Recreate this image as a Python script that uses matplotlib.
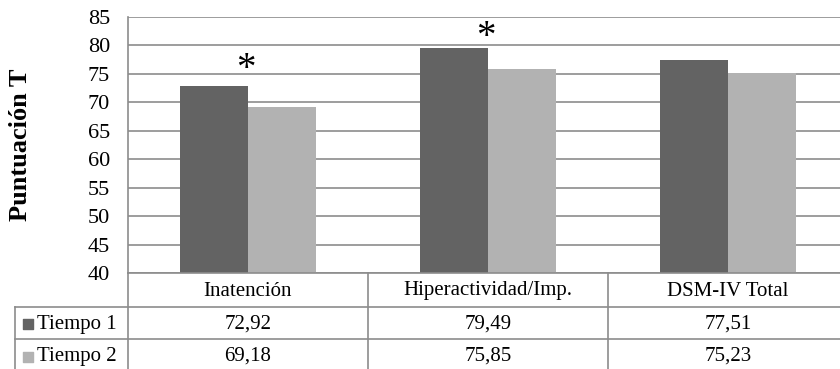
import matplotlib.pyplot as plt
import numpy as np

categories = ['Inatención', 'Hiperactividad/Imp.', 'DSM-IV Total']
series_names = ['Tiempo 1', 'Tiempo 2']
tiempo1 = [72.92, 79.49, 77.51]
tiempo2 = [69.18, 75.85, 75.23]
value_labels = [['72,92', '79,49', '77,51'], ['69,18', '75,85', '75,23']]
star_cats = [0, 1]
star_y = [75.8, 81.4]

W, H = 840, 369
dark = '#636363'
light = '#b2b2b2'
line_c = '#8c8c8c'
plt.rcParams['font.family'] = ['Liberation Serif', 'DejaVu Serif']


def fx(px):
    return px / W


def fy(px):
    return 1 - px / H


fig = plt.figure(figsize=(W / 100, H / 100), dpi=100)

# main chart area: x 128..848 px, y 17..273 px
ax = fig.add_axes([fx(128), fy(273), fx(720), (273 - 17) / H])
x = np.arange(len(categories))
bw = 0.283
ax.bar(x - bw / 2, tiempo1, bw, color=dark, zorder=3)
ax.bar(x + bw / 2, tiempo2, bw, color=light, zorder=3)
ax.set_xlim(-0.5, 2.5)
ax.set_ylim(40, 85)
ax.set_yticks(np.arange(40, 86, 5))
ax.yaxis.grid(True, color=line_c, linewidth=1.2, zorder=0)
ax.set_xticks([])
ax.tick_params(axis='y', length=0, labelsize=16, pad=13)
for s in ['top', 'right', 'bottom']:
    ax.spines[s].set_visible(False)
ax.spines['left'].set_color(line_c)
ax.spines['left'].set_linewidth(1.2)
ax.set_ylabel('Puntuación T', fontsize=19, fontweight='bold')
ax.yaxis.set_label_coords(-(128 - 32) / 720, 0.5)

for c, yv in zip(star_cats, star_y):
    ax.text(c - 0.01, yv, '*', ha='center', va='center', fontsize=28, zorder=4)

# table area below the chart: x 15..848 px, y 273..372 px
tx0 = -0.5 - (128 - 15) / 240
tab = fig.add_axes([fx(15), fy(372), fx(848 - 15), (372 - 273) / H])
tab.set_xlim(tx0, 2.5)
tab.set_ylim(372, 273)
tab.axis('off')
rows_y = [273, 307, 339, 372]
lk = dict(color=line_c, linewidth=1.2, clip_on=False)
tab.plot([-0.5, 2.5], [rows_y[0]] * 2, **lk)
for yy in rows_y[1:3]:
    tab.plot([tx0, 2.5], [yy, yy], **lk)
tab.plot([tx0, tx0], [rows_y[1], rows_y[3]], **lk)
for xb in [-0.5, 0.5, 1.5]:
    tab.plot([xb, xb], [rows_y[0], rows_y[3]], **lk)

for i, cat in enumerate(categories):
    tab.text(i, (rows_y[0] + rows_y[1]) / 2 + 1, cat, ha='center', va='center', fontsize=15)
for r, (name, col) in enumerate(zip(series_names, [dark, light])):
    yc = (rows_y[r + 1] + rows_y[r + 2]) / 2 + 1
    tab.scatter([tx0 + 13 / 240], [yc], marker='s', s=60, color=col, clip_on=False)
    tab.text(tx0 + 22 / 240, yc, name, ha='left', va='center', fontsize=15)
    for i in range(len(categories)):
        tab.text(i, yc, value_labels[r][i], ha='center', va='center', fontsize=15)

fig.savefig('out.png', dpi=100)
